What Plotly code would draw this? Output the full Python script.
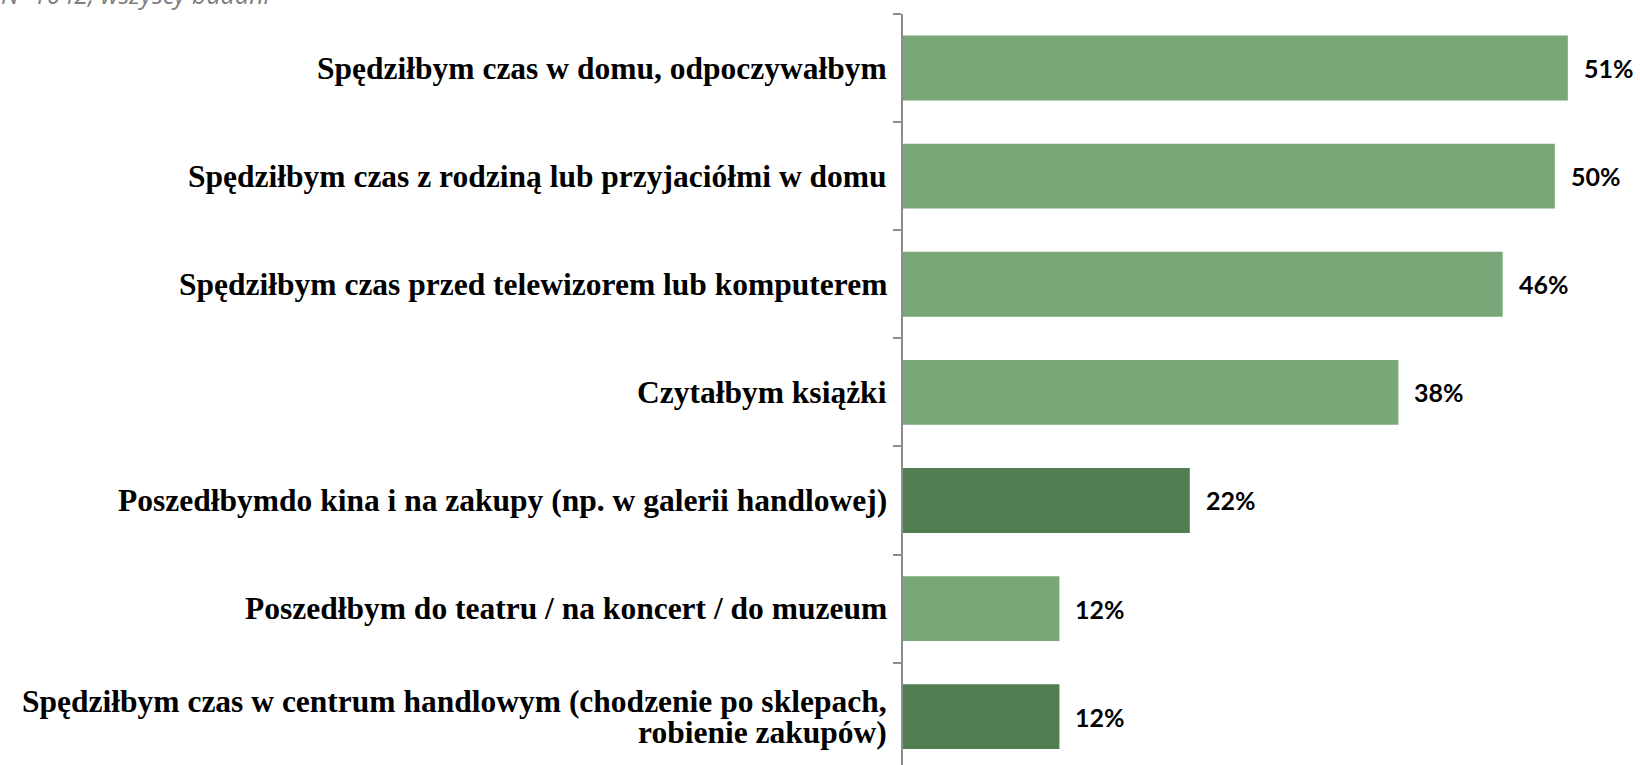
import plotly.graph_objects as go

categories = [
    "Spędziłbym czas w domu, odpoczywałbym",
    "Spędziłbym czas z rodziną lub przyjaciółmi w domu",
    "Spędziłbym czas przed telewizorem lub komputerem",
    "Czytałbym książki",
    "Poszedłbymdo kina i na zakupy (np. w galerii handlowej)",
    "Poszedłbym do teatru / na koncert / do muzeum",
    "Spędziłbym czas w centrum handlowym (chodzenie po sklepach,|robienie zakupów)",
]
values = [51, 50, 46, 38, 22, 12, 12]
dark = [False, False, False, False, True, False, True]
note = "N=1042, wszyscy badani"

LIGHT = "#78A877"
DARK = "#507E50"
colors = [DARK if d else LIGHT for d in dark]
cat_keys = [c.replace("|", " ") for c in categories]

fig = go.Figure()
fig.add_trace(go.Bar(
    y=cat_keys, x=values, orientation="h",
    marker=dict(color=colors, line=dict(width=0)),
    hoverinfo="skip",
))

annotations = []
label_font = dict(family="Liberation Serif", size=31.5, color="#000000")
for key, cat in zip(cat_keys, categories):
    lines = cat.split("|")
    n = len(lines)
    for i, ln in enumerate(lines):
        annotations.append(dict(
            x=0, y=key, xref="x", yref="y", text="<b>%s</b>" % ln,
            xanchor="right", yanchor="middle", showarrow=False,
            xshift=-14, yshift=(n - 1) * 15.5 - i * 31,
            font=label_font,
        ))
for key, v in zip(cat_keys, values):
    annotations.append(dict(
        x=v, y=key, xref="x", yref="y", text="<b>%d%%</b>" % v,
        xanchor="left", yanchor="middle", showarrow=False, xshift=14,
        font=dict(family="Lato", size=25, color="#000000"),
    ))
annotations.append(dict(
    x=0, y=1, xref="paper", yref="paper", text="<i>%s</i>" % note,
    xanchor="left", yanchor="bottom", showarrow=False,
    xshift=-904, yshift=1,
    font=dict(family="Open Sans", size=25, color="#7f7f7f"),
))

fig.update_layout(
    width=1640, height=765,
    margin=dict(l=903, r=20, t=14, b=0, pad=0),
    paper_bgcolor="white", plot_bgcolor="white",
    showlegend=False,
    bargap=0.4,
    annotations=annotations,
    xaxis=dict(range=[0, 55], visible=False, fixedrange=True),
    yaxis=dict(
        categoryorder="array", categoryarray=cat_keys,
        range=[6.447, -0.5],
        showticklabels=False, showgrid=False, zeroline=False,
        showline=True, linecolor="#8c8c8c", linewidth=2,
        ticks="outside", tickson="boundaries", ticklen=8,
        tickcolor="#8c8c8c", tickwidth=2,
    ),
)

fig.write_html(
    "out.html",
    config={"displayModeBar": False, "staticPlot": True},
    post_script="document.body.style.margin='0px';document.body.style.overflow='hidden';",
)
